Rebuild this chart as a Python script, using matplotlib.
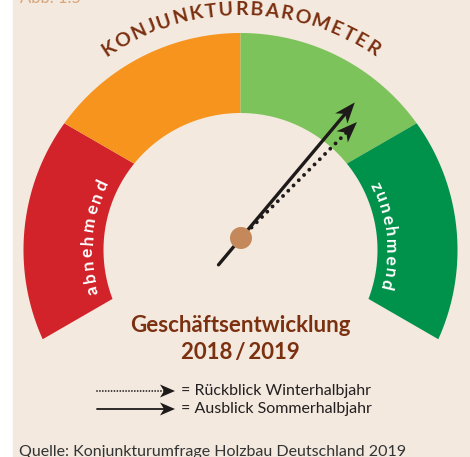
import numpy as np
import matplotlib.pyplot as plt
from matplotlib.patches import Polygon, Rectangle, Circle
from matplotlib.textpath import TextToPath
from matplotlib.font_manager import FontProperties

# gauge segments: edge angles (deg, seen from the pointer pivot), left to right
seg_edges = [210, 150, 90, 30, -30]
seg_colors = ['#D2232A', '#F7941D', '#7DC35B', '#00924A']
side_labels = ['abnehmend', 'zunehmend']
side_mid = [175, 6]          # where the labels sit on the ring (deg)
title = 'KONJUNKTURBAROMETER'
heading = ['Geschäftsentwicklung', '2018\u2009/\u20092019']
# pointer directions (deg, 0 = right, 90 = up)
arrow_names = ['Rückblick Winterhalbjahr', 'Ausblick Sommerhalbjahr']
arrow_angles = [45, 50]
arrow_styles = ['dotted', 'solid']
source = 'Quelle: Konjunkturumfrage Holzbau Deutschland 2019'
fig_label = 'Abb. 1.5'

W, H = 470, 457
BG = '#F3E9DE'
BROWN = '#7B3010'
FONT = ['Lato', 'DejaVu Sans']

fig = plt.figure(figsize=(W / 100, H / 100), dpi=100, facecolor='white')
ax = fig.add_axes([0, 0, 1, 1])
ax.set_xlim(0, W)
ax.set_ylim(0, H)
ax.axis('off')

def Y(py):
    return H - py

ax.add_patch(Rectangle((13, 0), W - 13, H, color=BG, zorder=0))

C = np.array([240.5, Y(250)])   # ring centre
P = np.array([240.5, Y(225)])   # edges of the segments point here
HUB = np.array([241, Y(238)])
R_OUT, R_IN = 217, 137

def ray_hit(a, R):
    d = np.array([np.cos(np.radians(a)), np.sin(np.radians(a))])
    f = P - C
    b = f @ d
    t = -b + np.sqrt(b * b - f @ f + R * R)
    q = P + t * d
    phi = np.degrees(np.arctan2(q[1] - C[1], q[0] - C[0]))
    return a + ((phi - a + 180) % 360 - 180)

for a1, a2, col in zip(seg_edges[:-1], seg_edges[1:], seg_colors):
    o = np.radians(np.linspace(ray_hit(a1, R_OUT), ray_hit(a2, R_OUT), 80))
    i = np.radians(np.linspace(ray_hit(a2, R_IN), ray_hit(a1, R_IN), 80))
    xs = np.concatenate([C[0] + R_OUT * np.cos(o), C[0] + R_IN * np.cos(i)])
    ys = np.concatenate([C[1] + R_OUT * np.sin(o), C[1] + R_IN * np.sin(i)])
    ax.add_patch(Polygon(np.column_stack([xs, ys]), closed=True, color=col, lw=0, zorder=1))

ttp = TextToPath()

def arc_text(s, mid, span, r, size, weight, color):
    fp = FontProperties(family=FONT, weight=weight, size=size)
    w = [ttp.get_text_width_height_descent(ch, fp, ismath=False)[0] * 100 / 72 for ch in s]
    steps = np.array([(w[k] + w[k + 1]) / 2 for k in range(len(s) - 1)])
    track = (np.radians(span) * r - steps.sum()) / (len(s) - 1)
    pos = np.concatenate([[0], np.cumsum(steps + track)])
    angs = mid + span / 2 - np.degrees(pos / r)
    for ch, a in zip(s, angs):
        x = C[0] + r * np.cos(np.radians(a))
        y = C[1] + r * np.sin(np.radians(a))
        ax.text(x, y, ch, rotation=a - 90, rotation_mode='anchor', ha='center',
                va='baseline', fontproperties=fp, color=color, zorder=5)

arc_text(title, 90, 66.4, 235, 14, 'bold', BROWN)
arc_text(side_labels[0], side_mid[0], 40, 148, 12.5, 'bold', 'white')
arc_text(side_labels[1], side_mid[1], 38.5, 145, 12.5, 'bold', 'white')

def arrow(start, ang, length, style, head_l, head_w, notch, lw, gap):
    u = np.array([np.cos(np.radians(ang)), np.sin(np.radians(ang))])
    n = np.array([-u[1], u[0]])
    tip = start + length * u
    back = tip - (head_l - notch) * u
    if style == 'dotted':
        ax.plot([start[0], back[0]], [start[1], back[1]], color='#1E1A1A', lw=lw,
                linestyle=(0, (0.01, gap)), dash_capstyle='round', zorder=6)
    else:
        ax.plot([start[0], back[0]], [start[1], back[1]], color='#1E1A1A', lw=lw,
                solid_capstyle='round', zorder=6)
    head = [tip, tip - head_l * u + head_w * n, back, tip - head_l * u - head_w * n]
    ax.add_patch(Polygon(head, closed=True, color='#1E1A1A', lw=0, zorder=7))

# pointers on the gauge
arrow(HUB, arrow_angles[0], 164, arrow_styles[0], 21, 8, 6, 2.8, 1.9)
arrow(HUB - 35 * np.array([np.cos(np.radians(arrow_angles[1])), np.sin(np.radians(arrow_angles[1]))]),
      arrow_angles[1], 212, arrow_styles[1], 21, 8, 6, 2.4, 0)
ax.add_patch(Circle(HUB, 11, color='#C4885A', lw=0, zorder=8))

ax.text(240, Y(325), heading[0], ha='center', va='center', family=FONT,
        weight='bold', size=16, color=BROWN)
ax.text(240, Y(352), heading[1], ha='center', va='center', family=FONT,
        weight='bold', size=16, color=BROWN)

# legend
for k, yy in enumerate([391, 409]):
    arrow(np.array([97, Y(yy)]), 0, 78, arrow_styles[k], 15, 6.5, 4, 1.3, 1.6)
    ax.text(181, Y(yy), '= ' + arrow_names[k], ha='left', va='center', family=FONT,
            size=11.5, color='#231F20')

ax.text(19, Y(456), source, ha='left', va='baseline', family=FONT, size=11.5, color='#333333')
ax.text(20, Y(3), fig_label, ha='left', va='baseline', family=FONT, size=12, color='#D9A77C')

fig.savefig('out.png', dpi=100, facecolor='white')
